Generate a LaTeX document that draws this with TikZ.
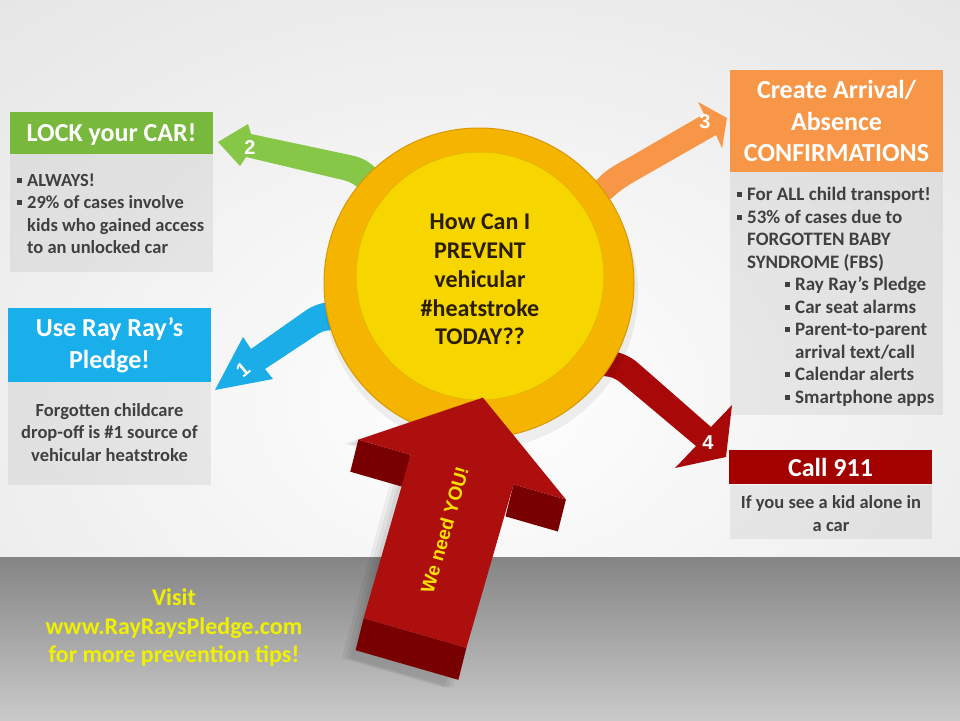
\documentclass[tikz,border=0pt]{standalone}
\usepackage{fontspec}
\setmainfont{Carlito}
\newfontfamily\arialfont{Liberation Sans}
\definecolor{cgreen}{HTML}{78B83C}
\definecolor{agreen}{HTML}{87C747}
\definecolor{cblue}{HTML}{18AFEA}
\definecolor{ablue}{HTML}{1AADE8}
\definecolor{corange}{HTML}{F79646}
\definecolor{cred}{HTML}{A30000}
\definecolor{ared}{HTML}{A80808}
\definecolor{bigfront}{HTML}{AD0E0E}
\definecolor{bigside}{HTML}{780000}
\definecolor{gold}{HTML}{F5B400}
\definecolor{goldedge}{HTML}{D99800}
\definecolor{ylw}{HTML}{F7D600}
\definecolor{ylwedge}{HTML}{E8B800}
\definecolor{txt}{HTML}{404040}
\definecolor{ctext}{HTML}{2B1E00}
\definecolor{visit}{HTML}{F0F000}
\definecolor{youtxt}{HTML}{FFE100}
\newcommand\bul{\makebox[10pt][l]{\rule[0.2em]{0.27em}{0.27em}}}
\begin{document}
\begin{tikzpicture}[x=1pt,y=-1pt,
  panel/.style={fill=black, fill opacity=0.06, draw=none, inner sep=0pt, anchor=north west},
  tbox/.style={draw=none, inner sep=0pt, anchor=north west},
  ttl/.style={text=white, inner sep=0pt, font=\fontsize{26}{32}\selectfont\bfseries},
  body/.style={text=txt, inner sep=0pt, font=\fontsize{18.5}{22.4}\selectfont\bfseries},
  num/.style={text=white, inner sep=0pt, font=\arialfont\bfseries\fontsize{20}{20}\selectfont}]
\useasboundingbox (0,0) rectangle (960,720);
% background
\begin{scope}
\clip (0,0) rectangle (960,558);
\shade[inner color=white, outer color=black!13] (-500,-300) rectangle (1460,1100);
\end{scope}
\shade[top color=black!48, bottom color=black!21] (0,557) rectangle (960,720);

% panels
\node[panel, minimum width=203pt, minimum height=118pt] (p2) at (10,154) {};
\node[panel, minimum width=203pt, minimum height=103pt] (p1) at (8,382) {};
\node[panel, minimum width=213pt, minimum height=243pt] (p3) at (730,172) {};
\node[panel, minimum width=202pt, minimum height=54pt] (p4) at (730,485) {};

% title boxes
\node[tbox, fill=cgreen, minimum width=203pt, minimum height=42pt] (t2) at (10,112) {};
\node[tbox, fill=cblue, minimum width=203pt, minimum height=74pt] (t1) at (8,308) {};
\node[tbox, fill=corange, minimum width=213pt, minimum height=102pt] (t3) at (730,70) {};
\node[tbox, fill=cred, minimum width=203pt, minimum height=34pt] (t4) at (729,450) {};

% coloured arrows
\fill[agreen] (218,142) -- (248,124) -- (251,134) -- (350,155)
  .. controls (365,158) and (372,163) .. (385,178) -- (375,200) -- (360,190)
  .. controls (355,184) and (350,182) .. (343,180) -- (246,157) -- (240,166) -- cycle;
\fill[corange] (727,118) -- (698,102) -- (704,114) -- (628,158)
  .. controls (615,165) and (605,170) .. (595,182) -- (600,205) -- (612,198)
  .. controls (618,192) and (624,188) .. (632,183) -- (716,135) -- (722,148) -- cycle;
\fill[ablue] (215,390) -- (243,337) -- (251,349) -- (305,311)
  .. controls (312,306) and (320,303) .. (330,302) -- (345,310) -- (335,330)
  .. controls (325,330) and (320,332) .. (315,336) -- (265,369) -- (273,379) -- cycle;
\fill[ared] (726,457) -- (732,405) -- (711,427) -- (638,363)
  .. controls (630,356) and (620,352) .. (608,350) -- (590,365) -- (600,376)
  .. controls (610,376) and (615,378) .. (621,383) -- (696,446) -- (675,468) -- cycle;

% circle
\fill[black, opacity=0.06] (481,292) circle[radius=157pt];
\node[circle, fill=gold, draw=goldedge, line width=1pt, minimum size=310pt, inner sep=0pt] (outer) at (479,283) {};
\node[circle, fill=ylw, draw=ylwedge, line width=1pt, minimum size=248pt, inner sep=0pt] (inner) at (480,276) {};

% big 3D arrow: soft shadow
\foreach \o/\s in {0.05/14, 0.05/10, 0.05/6} {
  \fill[black, opacity=\o] (482.9-\s,397.6+4) -- (565.9-\s,499.5+4) -- (513.5-\s,484.4+4) -- (466.4-\s-8,647.8+40)
  -- (363.6-\s-8,618.2+40) -- (410.7-\s,454.8+4) -- (358.3-\s,439.7+4) -- cycle;
}
\fill[bigside] (363.6,618.2) -- (466.4,647.8) -- (458.4,679.8) -- (355.6,650.2) -- cycle;
\fill[bigside] (358.3,439.7) -- (410.7,454.8) -- (402.7,486.8) -- (350.3,471.7) -- cycle;
\fill[bigside] (513.5,484.4) -- (565.9,499.5) -- (557.9,531.5) -- (505.5,516.4) -- cycle;
\fill[bigfront] (482.9,397.6) -- (565.9,499.5) -- (513.5,484.4) -- (466.4,647.8)
  -- (363.6,618.2) -- (410.7,454.8) -- (358.3,439.7) -- cycle;
\node[text=youtxt, inner sep=0pt, rotate=74, font=\arialfont\bfseries\fontsize{19}{19}\selectfont] (you) at (444.6,530.2) {We need YOU!};

% numbers
\node[num] (n2) at (250,148) {2};
\node[num] (n3) at (705,122) {3};
\node[num] (n4) at (708,443) {4};
\node[num, rotate=40] (n1) at (243,370) {1};

% titles
\node[ttl, anchor=base] (tt2) at (111.5,141.4) {LOCK your CAR!};
\node[ttl, anchor=north] (tt1) at (109.5,314) {\begin{tabular}{@{}c@{}}Use Ray Ray’s\\Pledge!\end{tabular}};
\node[ttl, anchor=north, font=\fontsize{26}{31.5}\selectfont\bfseries] (tt3) at (836.5,76.4) {\begin{tabular}{@{}c@{}}Create Arrival/\\Absence\\CONFIRMATIONS\end{tabular}};
\node[ttl, anchor=base] (tt4) at (830.5,476.4) {Call 911};

% body texts
\node[body, anchor=north west] (b2) at (17,170.4) {\begin{tabular}{@{}l@{}l@{}}
\bul & ALWAYS!\\
\bul & 29\% of cases involve\\
 & kids who gained access\\
 & to an unlocked car
\end{tabular}};
\node[body, anchor=north, font=\fontsize{18.5}{22.5}\selectfont\bfseries] (b1) at (109.5,400.3) {\begin{tabular}{@{}c@{}}
Forgotten childcare\\
drop-off is \#1 source of\\
vehicular heatstroke
\end{tabular}};
\node[body, anchor=north west, font=\fontsize{19}{22.5}\selectfont\bfseries] (b3) at (737,185) {\begin{tabular}{@{}l@{}l@{}}
\bul & For ALL child transport!\\
\bul & 53\% of cases due to\\
 & FORGOTTEN BABY\\
 & SYNDROME (FBS)\\
 & \hspace*{38pt}\bul Ray Ray’s Pledge\\
 & \hspace*{38pt}\bul Car seat alarms\\
 & \hspace*{38pt}\bul Parent-to-parent\\
 & \hspace*{48pt}arrival text/call\\
 & \hspace*{38pt}\bul Calendar alerts\\
 & \hspace*{38pt}\bul Smartphone apps
\end{tabular}};
\node[body, anchor=north, font=\fontsize{18.5}{23}\selectfont\bfseries] (b4) at (831,491.9) {\begin{tabular}{@{}c@{}}
If you see a kid alone in\\
a car
\end{tabular}};

% centre question
\node[text=ctext, inner sep=0pt, anchor=north, font=\fontsize{24}{28.75}\selectfont\bfseries] (q) at (480,209.6) {\begin{tabular}{@{}c@{}}
How Can I\\PREVENT\\vehicular\\\#heatstroke\\TODAY??
\end{tabular}};

% bottom text
\node[text=visit, inner sep=0pt, anchor=north, font=\fontsize{24}{28.5}\selectfont\bfseries] (visit) at (174,585.8) {\begin{tabular}{@{}c@{}}
Visit\\www.RayRaysPledge.com\\for more prevention tips!
\end{tabular}};
\end{tikzpicture}
\end{document}
